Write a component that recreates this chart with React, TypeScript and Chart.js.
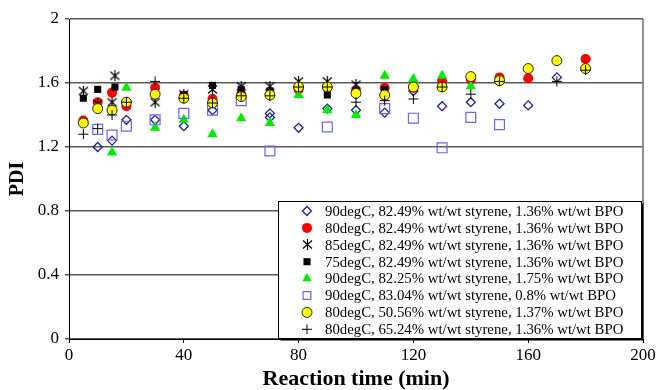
import React, { useEffect, useRef } from "react";
import { Chart, registerables } from "chart.js";
Chart.register(...registerables);

// ---- data ----
const xTickValues = [0, 40, 80, 120, 160, 200];
const yTickValues = [0, 0.4, 0.8, 1.2, 1.6, 2];

const labels = [
  "90degC, 82.49% wt/wt styrene, 1.36% wt/wt BPO",
  "80degC, 82.49% wt/wt styrene, 1.36% wt/wt BPO",
  "85degC, 82.49% wt/wt styrene, 1.36% wt/wt BPO",
  "75degC, 82.49% wt/wt styrene, 1.36% wt/wt BPO",
  "90degC, 82.25% wt/wt styrene, 1.75% wt/wt BPO",
  "90degC, 83.04% wt/wt styrene, 0.8% wt/wt BPO",
  "80degC, 50.56% wt/wt styrene, 1.37% wt/wt BPO",
  "80degC, 65.24% wt/wt styrene, 1.36% wt/wt BPO",
];

const s1Time = [10, 15, 20, 30, 40, 50, 70, 70, 80, 90, 100, 110, 120, 130, 140, 150, 160, 170];
const s1PDI = [1.2, 1.24, 1.37, 1.37, 1.33, 1.43, 1.41, 1.385, 1.32, 1.44, 1.43, 1.415, 1.55, 1.455, 1.48, 1.47, 1.46, 1.635];

const s2Time = [5, 10, 15, 20, 30, 40, 50, 60, 70, 80, 90, 100, 110, 120, 130, 140, 150, 160, 180];
const s2PDI = [1.365, 1.48, 1.54, 1.455, 1.57, 1.52, 1.5, 1.53, 1.53, 1.56, 1.57, 1.55, 1.57, 1.57, 1.61, 1.62, 1.635, 1.63, 1.75];

const s3Time = [5, 10, 15, 16, 30, 40, 50, 60, 70, 80, 90, 100];
const s3PDI = [1.55, 1.47, 1.48, 1.645, 1.48, 1.53, 1.56, 1.58, 1.58, 1.61, 1.61, 1.59];

const s4Time = [5, 10, 16, 40, 50, 60, 70, 90, 100, 110];
const s4PDI = [1.505, 1.56, 1.575, 1.525, 1.585, 1.56, 1.55, 1.525, 1.55, 1.56];

const s5Time = [15, 20, 30, 40, 50, 60, 70, 80, 90, 100, 110, 120, 130, 140];
const s5PDI = [1.165, 1.57, 1.32, 1.37, 1.28, 1.38, 1.35, 1.525, 1.43, 1.4, 1.645, 1.625, 1.645, 1.58];

const s6Time = [10, 15, 20, 30, 40, 50, 60, 70, 90, 110, 120, 130, 140, 150];
const s6PDI = [1.31, 1.275, 1.33, 1.37, 1.41, 1.43, 1.49, 1.175, 1.325, 1.44, 1.38, 1.195, 1.385, 1.34];

const s7Time = [5, 10, 15, 20, 30, 40, 50, 60, 70, 80, 90, 100, 110, 120, 130, 140, 150, 160, 170, 180];
const s7PDI = [1.35, 1.44, 1.43, 1.48, 1.53, 1.505, 1.475, 1.515, 1.525, 1.575, 1.575, 1.535, 1.525, 1.575, 1.575, 1.64, 1.615, 1.69, 1.74, 1.69];

const s8Time = [5, 10, 15, 20, 30, 40, 50, 60, 70, 80, 90, 100, 110, 120, 130, 140, 150, 170, 180];
const s8PDI = [1.28, 1.315, 1.4, 1.48, 1.61, 1.505, 1.475, 1.52, 1.52, 1.575, 1.575, 1.48, 1.49, 1.5, 1.575, 1.53, 1.61, 1.61, 1.68];

const seriesTimes = [s1Time, s2Time, s3Time, s4Time, s5Time, s6Time, s7Time, s8Time];
const seriesPDI = [s1PDI, s2PDI, s3PDI, s4PDI, s5PDI, s6PDI, s7PDI, s8PDI];

const SERIF = "'Liberation Serif', 'Times New Roman', serif";

function makeStar(): HTMLCanvasElement {
  const c = document.createElement("canvas");
  c.width = 11;
  c.height = 11;
  const g = c.getContext("2d")!;
  g.strokeStyle = "#000";
  g.lineWidth = 1.2;
  g.beginPath();
  g.moveTo(1, 1.5);
  g.lineTo(10, 9.5);
  g.moveTo(10, 1.5);
  g.lineTo(1, 9.5);
  g.moveTo(5.5, 0);
  g.lineTo(5.5, 11);
  g.stroke();
  return c;
}

type Sty = {
  pointStyle: any;
  radius: number;
  bg: string;
  border: string;
  bw: number;
};

function styles(star: HTMLCanvasElement): Sty[] {
  return [
    { pointStyle: "rectRot", radius: 4.5, bg: "rgba(255,255,255,0)", border: "#1f1f8f", bw: 1.3 },
    { pointStyle: "circle", radius: 5, bg: "#ff0000", border: "#ff0000", bw: 0 },
    { pointStyle: star, radius: 5, bg: "#000", border: "#000", bw: 1 },
    { pointStyle: "rect", radius: 5, bg: "#000000", border: "#000000", bw: 0 },
    { pointStyle: "triangle", radius: 6, bg: "#00ee00", border: "#00ee00", bw: 0 },
    { pointStyle: "rect", radius: 7, bg: "rgba(255,255,255,0)", border: "#6666ff", bw: 1.2 },
    { pointStyle: "circle", radius: 5, bg: "#ffff00", border: "#222", bw: 1 },
    { pointStyle: "cross", radius: 5, bg: "#000", border: "#000", bw: 1 },
  ];
}

function drawMarker(ctx: CanvasRenderingContext2D, s: Sty, x: number, y: number) {
  ctx.save();
  ctx.fillStyle = s.bg;
  ctx.strokeStyle = s.border;
  ctx.lineWidth = s.bw;
  const r = s.radius;
  if (typeof s.pointStyle !== "string") {
    const img = s.pointStyle as HTMLCanvasElement;
    ctx.drawImage(img, Math.round(x - img.width / 2), Math.round(y - img.height / 2));
    ctx.restore();
    return;
  }
  ctx.beginPath();
  switch (s.pointStyle) {
    case "circle":
      ctx.arc(x, y, r, 0, Math.PI * 2);
      break;
    case "rect": {
      const h = r * Math.SQRT1_2;
      ctx.rect(x - h, y - h, 2 * h, 2 * h);
      break;
    }
    case "rectRot":
      ctx.moveTo(x - r, y);
      ctx.lineTo(x, y - r);
      ctx.lineTo(x + r, y);
      ctx.lineTo(x, y + r);
      ctx.closePath();
      break;
    case "triangle": {
      const a = (2 * Math.PI) / 3;
      ctx.moveTo(x, y - r);
      ctx.lineTo(x + Math.sin(a) * r, y - Math.cos(a) * r);
      ctx.lineTo(x + Math.sin(2 * a) * r, y - Math.cos(2 * a) * r);
      ctx.closePath();
      break;
    }
    case "cross":
      ctx.moveTo(x - r, y);
      ctx.lineTo(x + r, y);
      ctx.moveTo(x, y - r);
      ctx.lineTo(x, y + r);
      break;
  }
  if (s.pointStyle !== "cross") ctx.fill();
  if (s.bw > 0) ctx.stroke();
  ctx.restore();
}

export default function App() {
  const ref = useRef<HTMLCanvasElement>(null);

  useEffect(() => {
    document.body.style.margin = "0";
    const star = makeStar();
    const sty = styles(star);

    const datasets = seriesTimes.map((ts, i) => ({
      label: labels[i],
      data: ts.map((t, j) => ({ x: t, y: seriesPDI[i][j] })),
      showLine: false,
      pointStyle: sty[i].pointStyle,
      pointRadius: sty[i].radius,
      pointBackgroundColor: sty[i].bg,
      pointBorderColor: sty[i].border,
      pointBorderWidth: sty[i].bw,
      backgroundColor: sty[i].bg,
      borderColor: sty[i].border,
      order: 8 - i,
    }));

    const framePlugin = {
      id: "frame",
      afterDatasetsDraw(chart: any) {
        const ctx: CanvasRenderingContext2D = chart.ctx;
        const a = chart.chartArea;
        ctx.save();
        ctx.strokeStyle = "#6e6e6e";
        ctx.lineWidth = 1.5;
        ctx.beginPath();
        ctx.moveTo(a.right, a.top);
        ctx.lineTo(a.right, a.bottom);
        ctx.stroke();

        // legend box
        const lx = 278.5, ly = 201.5, lw = 363, lh = 137;
        ctx.fillStyle = "#fff";
        ctx.fillRect(lx, ly, lw, lh);
        ctx.strokeStyle = "#000";
        ctx.lineWidth = 1;
        ctx.strokeRect(lx, ly, lw, lh);
        ctx.lineWidth = 2;
        ctx.beginPath();
        ctx.moveTo(lx + lw + 1, ly + 2);
        ctx.lineTo(lx + lw + 1, ly + lh + 1);
        ctx.lineTo(lx + 2, ly + lh + 1);
        ctx.stroke();

        ctx.font = `14.8px ${SERIF}`;
        ctx.fillStyle = "#000";
        ctx.textBaseline = "middle";
        ctx.textAlign = "left";
        for (let i = 0; i < labels.length; i++) {
          const cy = 211 + i * 16.9;
          drawMarker(ctx, { ...sty[i], radius: Math.min(sty[i].radius, 5.5) }, 307, cy);
          ctx.fillStyle = "#000";
          ctx.fillText(labels[i], 325, cy + 1);
        }

        // axis titles
        ctx.font = `bold 22px ${SERIF}`;
        ctx.textAlign = "center";
        ctx.textBaseline = "middle";
        ctx.fillText("Reaction time (min)", (a.left + a.right) / 2, 379);
        ctx.font = `bold 20px ${SERIF}`;
        ctx.save();
        ctx.translate(18, (a.top + a.bottom) / 2);
        ctx.rotate(-Math.PI / 2);
        ctx.fillText("PDI", 0, 0);
        ctx.restore();
        ctx.restore();
      },
    };

    const chart = new Chart(ref.current!, {
      type: "scatter",
      data: { datasets: datasets as any },
      options: {
        animation: false,
        responsive: false,
        layout: { padding: { top: 19, right: 15, left: 0, bottom: 0 } },
        plugins: {
          legend: { display: false },
          tooltip: { enabled: false },
        },
        scales: {
          x: {
            type: "linear",
            min: 0,
            max: 200,
            afterBuildTicks: (s: any) => {
              s.ticks = xTickValues.map((v) => ({ value: v }));
            },
            ticks: {
              color: "#000",
              font: { family: SERIF, size: 17 },
              padding: 2,
              maxRotation: 0,
              callback: (v: any) => String(v),
            },
            grid: {
              drawOnChartArea: false,
              drawTicks: true,
              tickLength: 4,
              color: "#000",
            },
            border: { color: "#000", width: 1 },
            afterFit: (s: any) => {
              s.height = 51;
            },
          },
          y: {
            type: "linear",
            min: 0,
            max: 2,
            afterBuildTicks: (s: any) => {
              s.ticks = yTickValues.map((v) => ({ value: v }));
            },
            ticks: {
              color: "#000",
              font: { family: SERIF, size: 17 },
              padding: 6,
              callback: (v: any) => String(+Number(v).toFixed(1)),
            },
            grid: {
              color: "#5a5a5a",
              lineWidth: 1.5,
              tickLength: 4,
            },
            border: { color: "#000", width: 1 },
            afterFit: (s: any) => {
              s.width = 69;
            },
          },
        },
      },
      plugins: [framePlugin],
    });
    return () => chart.destroy();
  }, []);

  return (
    <div style={{ position: "fixed", left: 0, top: 0, width: 658, height: 390, background: "#fff" }}>
      <canvas ref={ref} width={658} height={390} />
    </div>
  );
}
